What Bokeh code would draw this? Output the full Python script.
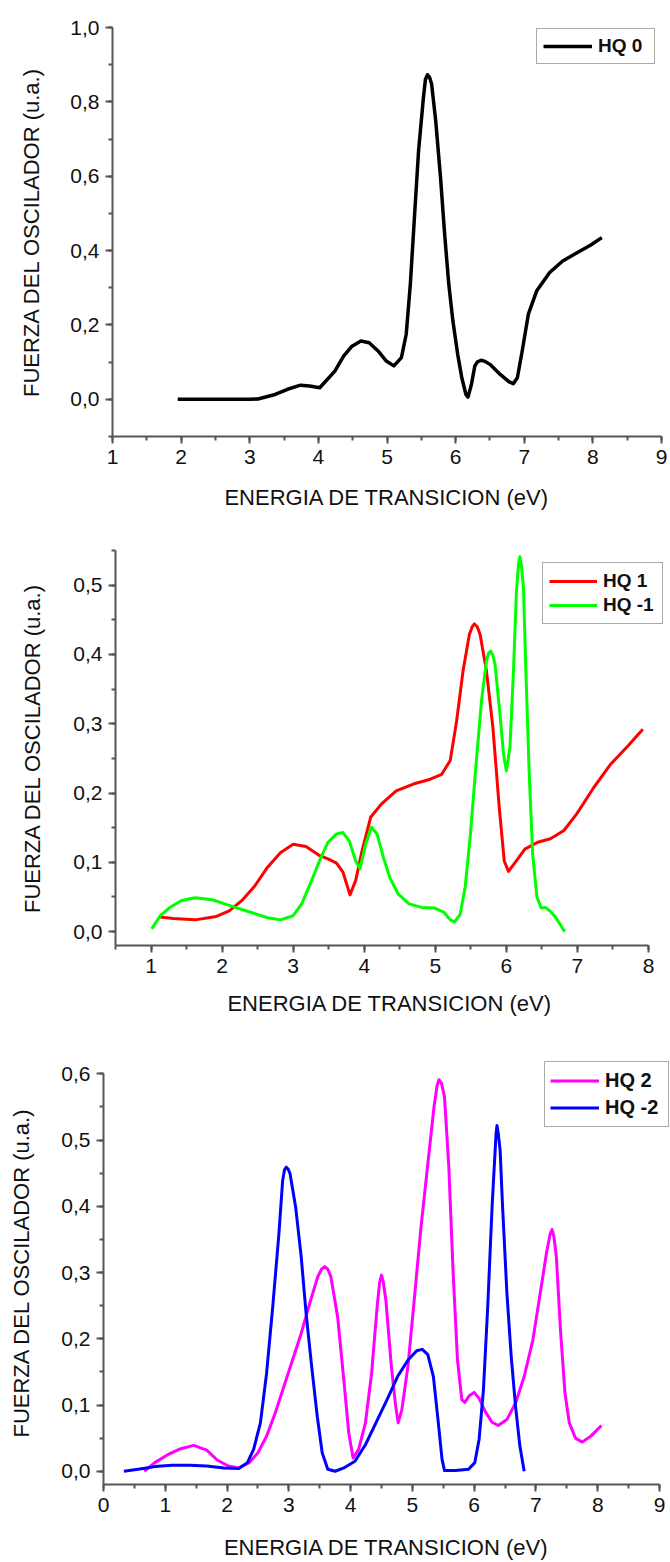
from bokeh.plotting import figure
from bokeh.models import (Range1d, SingleIntervalTicker, CustomJSTickFormatter,
                          Legend, LegendItem)
from bokeh.embed import file_html
from bokeh.resources import INLINE

# ---------------- data ----------------
hq0_x = [1.95, 2.5, 3.0, 3.12, 3.37, 3.55, 3.74, 3.87, 4.02, 4.24, 4.37, 4.49, 4.62, 4.74,
         4.87, 4.99, 5.10, 5.21, 5.28, 5.34, 5.40, 5.46, 5.53, 5.56, 5.59, 5.62, 5.65, 5.71,
         5.78, 5.84, 5.90, 5.96, 6.03, 6.09, 6.15, 6.18, 6.23, 6.28, 6.32, 6.37, 6.43, 6.50,
         6.65, 6.78, 6.84, 6.90, 6.97, 7.06, 7.18, 7.37, 7.56, 7.75, 7.97, 8.13]
hq0_y = [0.0, 0.0, 0.0, 0.001, 0.013, 0.027, 0.038, 0.036, 0.031, 0.076, 0.117, 0.143, 0.157,
         0.152, 0.130, 0.103, 0.090, 0.112, 0.175, 0.31, 0.49, 0.668, 0.81, 0.86, 0.873,
         0.866, 0.848, 0.749, 0.596, 0.444, 0.31, 0.211, 0.121, 0.058, 0.013, 0.006, 0.04,
         0.09, 0.101, 0.105, 0.102, 0.094, 0.067, 0.047, 0.042, 0.058, 0.13, 0.229, 0.291,
         0.341, 0.372, 0.392, 0.415, 0.435]

hq1_x = [1.13, 1.31, 1.62, 1.92, 2.10, 2.28, 2.46, 2.64, 2.82, 3.00, 3.18, 3.37, 3.49, 3.61,
         3.70, 3.80, 3.88, 3.97, 4.09, 4.24, 4.45, 4.69, 4.93, 5.09, 5.21, 5.30, 5.39, 5.48,
         5.52, 5.55, 5.59, 5.63, 5.72, 5.81, 5.90, 5.97, 6.03, 6.14, 6.26, 6.44, 6.62, 6.81,
         6.99, 7.23, 7.47, 7.71, 7.92]
hq1_y = [0.021, 0.019, 0.017, 0.022, 0.030, 0.045, 0.066, 0.093, 0.114, 0.126, 0.123, 0.110,
         0.105, 0.099, 0.086, 0.053, 0.074, 0.117, 0.165, 0.184, 0.203, 0.213, 0.220, 0.227,
         0.247, 0.304, 0.376, 0.429, 0.440, 0.444, 0.440, 0.429, 0.376, 0.295, 0.179, 0.102,
         0.087, 0.102, 0.119, 0.129, 0.134, 0.146, 0.170, 0.208, 0.242, 0.268, 0.292]

hqm1_x = [1.01, 1.13, 1.28, 1.43, 1.62, 1.86, 2.10, 2.40, 2.64, 2.82, 3.00, 3.12, 3.24, 3.37,
          3.49, 3.61, 3.70, 3.79, 3.88, 3.94, 4.02, 4.10, 4.18, 4.27, 4.36, 4.48, 4.63, 4.81,
          4.99, 5.12, 5.21, 5.27, 5.35, 5.42, 5.49, 5.57, 5.65, 5.72, 5.75, 5.78, 5.81, 5.84,
          5.91, 5.96, 6.00, 6.05, 6.10, 6.14, 6.17, 6.19, 6.21, 6.24, 6.27, 6.32, 6.37, 6.43,
          6.49, 6.55, 6.61, 6.69, 6.76, 6.82]
hqm1_y = [0.004, 0.023, 0.036, 0.045, 0.049, 0.046, 0.038, 0.028, 0.020, 0.017, 0.023, 0.040,
          0.069, 0.102, 0.129, 0.141, 0.143, 0.131, 0.102, 0.091, 0.126, 0.151, 0.141, 0.107,
          0.078, 0.054, 0.040, 0.035, 0.034, 0.028, 0.017, 0.014, 0.025, 0.064, 0.136, 0.237,
          0.333, 0.391, 0.402, 0.405, 0.399, 0.386, 0.314, 0.256, 0.232, 0.266, 0.376, 0.487,
          0.530, 0.541, 0.530, 0.497, 0.391, 0.232, 0.112, 0.050, 0.034, 0.035, 0.030, 0.021,
          0.010, 0.0]

hq2_x = [0.66, 0.83, 1.04, 1.25, 1.46, 1.67, 1.84, 2.02, 2.19, 2.36, 2.50, 2.64, 2.78, 2.92,
         3.06, 3.20, 3.34, 3.47, 3.53, 3.58, 3.63, 3.68, 3.79, 3.89, 3.97, 4.04, 4.13, 4.24,
         4.34, 4.43, 4.47, 4.50, 4.53, 4.57, 4.66, 4.73, 4.77, 4.83, 4.93, 5.04, 5.14, 5.25,
         5.35, 5.40, 5.43, 5.47, 5.52, 5.59, 5.66, 5.73, 5.80, 5.85, 5.92, 6.00, 6.08, 6.18,
         6.29, 6.39, 6.53, 6.67, 6.81, 6.95, 7.07, 7.17, 7.23, 7.26, 7.29, 7.33, 7.40, 7.47,
         7.54, 7.64, 7.75, 7.89, 8.06]
hq2_y = [0.0, 0.013, 0.025, 0.034, 0.039, 0.032, 0.017, 0.008, 0.005, 0.013, 0.028, 0.053,
         0.088, 0.128, 0.168, 0.208, 0.254, 0.294, 0.305, 0.309, 0.305, 0.294, 0.233, 0.138,
         0.058, 0.020, 0.033, 0.073, 0.148, 0.249, 0.285, 0.296, 0.285, 0.259, 0.158, 0.098,
         0.073, 0.093, 0.160, 0.269, 0.369, 0.464, 0.55, 0.582, 0.591, 0.586, 0.565, 0.459,
         0.299, 0.168, 0.108, 0.104, 0.114, 0.119, 0.110, 0.090, 0.074, 0.069, 0.078, 0.103,
         0.143, 0.198, 0.269, 0.329, 0.358, 0.365, 0.355, 0.324, 0.209, 0.118, 0.073, 0.050,
         0.044, 0.053, 0.069]

hqm2_x = [0.33, 0.56, 0.83, 1.11, 1.39, 1.67, 1.95, 2.19, 2.33, 2.43, 2.54, 2.64, 2.74, 2.84,
          2.90, 2.93, 2.96, 2.99, 3.02, 3.11, 3.20, 3.28, 3.37, 3.46, 3.54, 3.63, 3.75, 3.89,
          4.07, 4.24, 4.41, 4.59, 4.76, 4.93, 5.07, 5.16, 5.25, 5.34, 5.42, 5.48, 5.52, 5.70,
          5.91, 6.01, 6.08, 6.15, 6.22, 6.29, 6.34, 6.355, 6.37, 6.39, 6.42, 6.46, 6.53, 6.60,
          6.67, 6.74, 6.81]
hqm2_y = [0.0, 0.003, 0.007, 0.009, 0.009, 0.008, 0.005, 0.004, 0.013, 0.033, 0.073, 0.148,
          0.249, 0.359, 0.439, 0.455, 0.459, 0.456, 0.449, 0.399, 0.324, 0.238, 0.158, 0.083,
          0.028, 0.003, 0.0, 0.005, 0.015, 0.040, 0.073, 0.108, 0.143, 0.168, 0.182, 0.184,
          0.176, 0.143, 0.073, 0.018, 0.001, 0.001, 0.003, 0.013, 0.048, 0.123, 0.249, 0.399,
          0.485, 0.510, 0.522, 0.510, 0.485, 0.399, 0.269, 0.173, 0.098, 0.038, 0.0]

x_label = "ENERGIA DE TRANSICION (eV)"
y_label = "FUERZA DEL OSCILADOR (u.a.)"

FONT = "Liberation Sans"
AXIS_COLOR = "#555555"
TEXT_COLOR = "#111111"


def make_fig(height, xr, xbounds, yr, ybounds, y_interval, left, right, top, bottom,
             x_title_standoff, y_title_standoff):
    p = figure(width=670, height=height, output_backend="svg", toolbar_location=None,
               x_range=Range1d(*xr), y_range=Range1d(*yr),
               min_border_left=left, min_border_right=right,
               min_border_top=top, min_border_bottom=bottom)
    p.outline_line_color = None
    p.grid.visible = False
    p.xaxis.ticker = SingleIntervalTicker(interval=1, num_minor_ticks=2)
    p.xaxis.bounds = xbounds
    p.yaxis.ticker = SingleIntervalTicker(interval=y_interval, num_minor_ticks=2)
    p.yaxis.bounds = ybounds
    p.yaxis.formatter = CustomJSTickFormatter(code="return tick.toFixed(1).replace('.', ',');")
    for ax in (p.xaxis[0], p.yaxis[0]):
        ax.axis_line_color = AXIS_COLOR
        ax.axis_line_width = 2
        ax.major_tick_line_color = AXIS_COLOR
        ax.major_tick_line_width = 2
        ax.minor_tick_line_color = AXIS_COLOR
        ax.minor_tick_line_width = 2
        ax.major_tick_in = 0
        ax.major_tick_out = 7
        ax.minor_tick_in = 0
        ax.minor_tick_out = 4
        ax.major_label_text_font = FONT
        ax.major_label_text_font_size = "21px"
        ax.major_label_text_color = TEXT_COLOR
        ax.major_label_standoff = 6
        ax.axis_label_text_font = FONT
        ax.axis_label_text_font_size = "22px"
        ax.axis_label_text_font_style = "normal"
        ax.axis_label_text_color = TEXT_COLOR
    p.xaxis.axis_label = x_label
    p.yaxis.axis_label = y_label
    p.xaxis.axis_label_standoff = x_title_standoff
    p.yaxis.axis_label_standoff = y_title_standoff
    return p


def add_legend(p, items, loc, font_size, row_h, glyph_w, padding, label_w):
    leg = Legend(items=items, location=loc, padding=padding, spacing=0, margin=0,
                 glyph_width=glyph_w, glyph_height=row_h, label_height=row_h,
                 label_width=label_w, label_standoff=6, label_text_font=FONT,
                 label_text_font_size=font_size, label_text_font_style="bold",
                 label_text_color=TEXT_COLOR,
                 border_line_color=AXIS_COLOR, border_line_width=1.5,
                 background_fill_color="white", background_fill_alpha=1.0)
    p.add_layout(leg, "center")


# ---------------- panel 1 ----------------
p1 = make_fig(520, (1, 9), (1, 9), (-0.1, 1.0), (-0.1, 1.0001), 0.2,
              112, 9, 27, 84, 18, 23)
r0 = p1.line(hq0_x, hq0_y, line_color="black", line_width=3.5, line_join="round")
add_legend(p1, [LegendItem(label="HQ 0", renderers=[r0])], (424, 372), "19px", 20, 49, 6, 50)

# ---------------- panel 2 ----------------
p2 = make_fig(520, (0.5, 8.225), (0.5, 8), (-0.02, 0.55), (-0.02, 0.55), 0.1,
              115, 6, 30, 95, 15, 25)
r1 = p2.line(hq1_x, hq1_y, line_color="#ff0000", line_width=3, line_join="round")
rm1 = p2.line(hqm1_x, hqm1_y, line_color="#00ff00", line_width=3, line_join="round")
add_legend(p2, [LegendItem(label="HQ 1", renderers=[r1]),
                LegendItem(label="HQ -1", renderers=[rm1])], (427, 321), "19px", 24, 48, 6, 53)

# ---------------- panel 3 ----------------
p3 = make_fig(522, (0, 9.162), (0, 9), (-0.02, 0.62), (-0.02, 0.6001), 0.1,
              103, 1, 20, 78, 20, 24)
r2 = p3.line(hq2_x, hq2_y, line_color="#ff00ff", line_width=3, line_join="round")
rm2 = p3.line(hqm2_x, hqm2_y, line_color="#0000ff", line_width=3, line_join="round")
add_legend(p3, [LegendItem(label="HQ 2", renderers=[r2]),
                LegendItem(label="HQ -2", renderers=[rm2])], (441, 357), "20px", 27, 49, 5, 58)

open("out.html", "w").write(file_html([p1, p2, p3], INLINE))
